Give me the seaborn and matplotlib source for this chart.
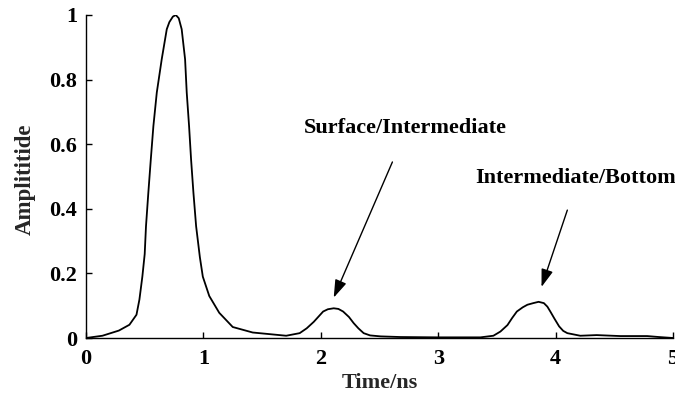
import matplotlib
matplotlib.use("Agg")
import matplotlib.pyplot as plt
import seaborn as sns
import pandas as pd

# ---- data ----
time_ns = [0, 0.14, 0.28, 0.37, 0.43, 0.455, 0.48, 0.50, 0.511, 0.531, 0.552, 0.574,
           0.603, 0.645, 0.688, 0.71, 0.74, 0.765, 0.79, 0.815, 0.844, 0.858, 0.878, 0.895,
           0.915, 0.938, 0.97, 0.995, 1.05, 1.135, 1.25, 1.42, 1.705, 1.82, 1.88, 1.94, 2.02,
           2.06, 2.11, 2.15, 2.19, 2.24, 2.28, 2.32, 2.365, 2.42, 2.51, 2.68, 3.0, 3.36, 3.47,
           3.53, 3.59, 3.63, 3.67, 3.72, 3.76, 3.81, 3.855, 3.90, 3.93, 3.955, 3.99, 4.03,
           4.065, 4.10, 4.21, 4.35, 4.55, 4.78, 4.88, 5.0]
amplitude = [0, 0.007, 0.023, 0.041, 0.072, 0.119, 0.19, 0.26, 0.346, 0.45, 0.553, 0.656,
             0.76, 0.863, 0.956, 0.978, 0.995, 1.0, 0.99, 0.956, 0.863, 0.76, 0.656, 0.553,
             0.45, 0.346, 0.25, 0.19, 0.13, 0.078, 0.034, 0.017, 0.007, 0.015, 0.03, 0.05, 0.082,
             0.089, 0.092, 0.09, 0.082, 0.065, 0.046, 0.03, 0.015, 0.008, 0.005, 0.003, 0.002, 0.002, 0.007,
             0.02, 0.04, 0.062, 0.082, 0.095, 0.103, 0.108, 0.112, 0.108, 0.097, 0.082, 0.06, 0.036,
             0.022, 0.015, 0.007, 0.009, 0.006, 0.006, 0.003, 0.0]

x_ticks = [0, 1, 2, 3, 4, 5]
x_tick_labels = ["0", "1", "2", "3", "4", "5"]
y_ticks = [0, 0.2, 0.4, 0.6, 0.8, 1.0]
y_tick_labels = ["0", "0.2", "0.4", "0.6", "0.8", "1"]

annot_labels = ["Surface/Intermediate", "Intermediate/Bottom"]
annot_text_xy = [(2.72, 0.65), (4.17, 0.495)]
arrow_tail_xy = [(2.61, 0.545), (4.10, 0.396)]
arrow_tip_xy = [(2.11, 0.125), (3.88, 0.158)]

df = pd.DataFrame({"Time/ns": time_ns, "Amplititide": amplitude})

sns.set_theme(style="ticks")
plt.rcParams["font.family"] = ["Liberation Serif", "DejaVu Serif"]
plt.rcParams["font.weight"] = "bold"

fig = plt.figure(figsize=(6.75, 3.94), dpi=100)
ax = fig.add_axes([86 / 675, 56 / 394, 587 / 675, 323 / 394])

sns.lineplot(data=df, x="Time/ns", y="Amplititide", ax=ax, color="black",
             linewidth=1.3, sort=False, estimator=None)

ax.set_xlim(0, 5)
ax.set_ylim(0, 1)
ax.set_xticks(x_ticks)
ax.set_xticklabels(x_tick_labels)
ax.set_yticks(y_ticks)
ax.set_yticklabels(y_tick_labels)
ax.tick_params(direction="in", length=4, width=1, labelsize=16, colors="black")
ax.tick_params(axis="x", pad=8)
ax.tick_params(axis="y", pad=6.5)
for lab in ax.get_xticklabels() + ax.get_yticklabels():
    lab.set_fontweight("bold")

ax.spines["top"].set_visible(False)
ax.spines["right"].set_visible(False)
for s in ["left", "bottom"]:
    ax.spines[s].set_color("black")
    ax.spines[s].set_linewidth(1.0)

ax.set_xlabel("Time/ns", fontsize=16, fontweight="bold")
ax.set_ylabel("Amplititide", fontsize=16.5, fontweight="bold")
ax.xaxis.set_label_coords(0.5, -0.108)
ax.yaxis.set_label_coords(-0.086, 0.49)

for lab, txy, tail, tip in zip(annot_labels, annot_text_xy, arrow_tail_xy, arrow_tip_xy):
    ax.text(txy[0], txy[1], lab, ha="center", va="center", fontsize=16,
            fontweight="bold", color="black")
    ax.annotate("", xy=tip, xytext=tail,
                arrowprops=dict(arrowstyle="-|>,head_length=0.9,head_width=0.3",
                                color="black", lw=1.0, shrinkA=0, shrinkB=0))

fig.savefig("out.png", dpi=100)
